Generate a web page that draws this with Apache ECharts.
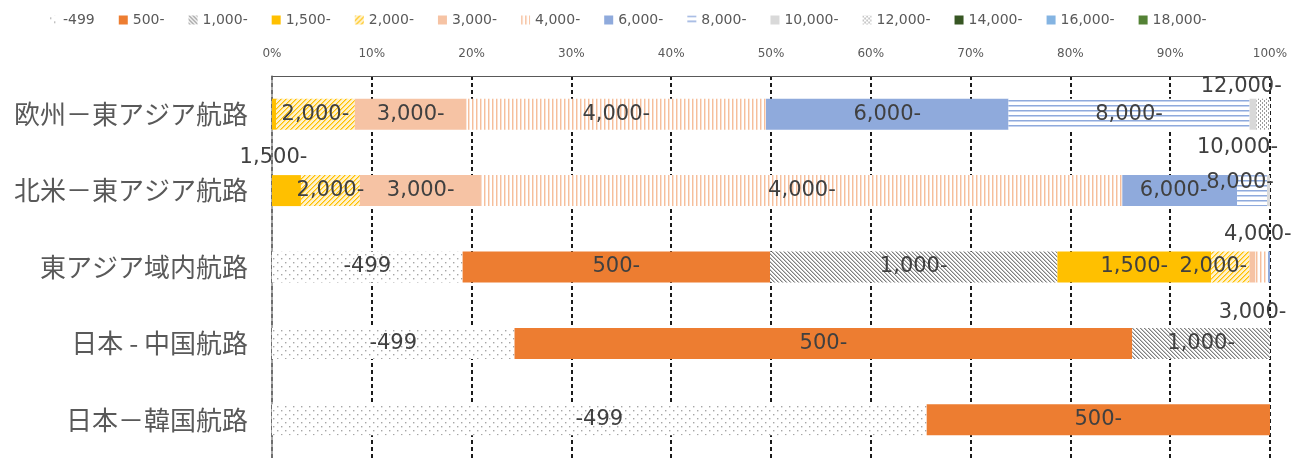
<!DOCTYPE html>
<html>
<head>
<meta charset="utf-8">
<script src="https://cdn.jsdelivr.net/npm/echarts@6/dist/echarts.min.js"></script>
<style>
  html, body { margin: 0; padding: 0; background: #ffffff; }
  #chart { width: 1313px; height: 458px; }
</style>
</head>
<body>
<div id="chart"></div>
<script>
// Routes (top to bottom)
const routes = ['欧州－東アジア航路', '北米－東アジア航路', '東アジア域内航路', '日本 - 中国航路', '日本－韓国航路'];

// Ship size bands (TEU)
const bands = ['-499', '500-', '1,000-', '1,500-', '2,000-', '3,000-', '4,000-', '6,000-', '8,000-', '10,000-', '12,000-', '14,000-', '16,000-', '18,000-'];

// Share (%) of each size band, one value per route in route order
const v499   = [0,     0,    19.1,  24.3, 65.6];
const v500   = [0,     0,    30.8,  61.9, 34.4];
const v1000  = [0,     0,    28.8,  13.8, 0];
const v1500  = [0.4,   2.9,  15.4,  0,    0];
const v2000  = [7.9,   5.9,  3.85,  0,    0];
const v3000  = [11.2,  12.2, 0.6,   0,    0];
const v4000  = [30.0,  64.2, 1.25,  0,    0];
const v6000  = [24.3,  11.5, 0.2,   0,    0];
const v8000  = [24.15, 3.0,  0,     0,    0];
const v10000 = [0.7,   0.3,  0,     0,    0];
const v12000 = [1.35,  0,    0,     0,    0];
const v14000 = [0,     0,    0,     0,    0];
const v16000 = [0,     0,    0,     0,    0];
const v18000 = [0,     0,    0,     0,    0];

const bandValues = [v499, v500, v1000, v1500, v2000, v3000, v4000, v6000, v8000, v10000, v12000, v14000, v16000, v18000];

// Percent tick labels along the top axis
const tickLabels = ['0%', '10%', '20%', '30%', '40%', '50%', '60%', '70%', '80%', '90%', '100%'];

// Which segments carry a data label, and how far small ones are nudged off the bar
const labelPlacement = [
  ['2,000-', 0, 0, 0], ['3,000-', 0, 0, 0], ['4,000-', 0, 0, 0], ['6,000-', 0, 0, 0], ['8,000-', 0, 0, 0], ['12,000-', 0, -22, -28],
  ['1,500-', 1, -13, -33], ['2,000-', 1, 0, 0], ['3,000-', 1, 0, 0], ['4,000-', 1, 0, 0], ['6,000-', 1, -6, 0], ['8,000-', 1, -12, -8], ['10,000-', 1, -31, -43],
  ['-499', 2, 0, 0], ['500-', 2, 0, 0], ['1,000-', 2, 0, 0], ['1,500-', 2, 0, 0], ['2,000-', 2, -17, 0], ['3,000-', 2, 0, 46], ['4,000-', 2, -4, -32],
  ['-499', 3, 0, 0], ['500-', 3, 0, 0], ['1,000-', 3, 0, 0],
  ['-499', 4, 0, 0], ['500-', 4, 0, 0]
];

// ---- fill patterns ----
function tile(w, h, draw) {
  const c = document.createElement('canvas');
  c.width = w; c.height = h;
  const g = c.getContext('2d');
  g.fillStyle = '#ffffff';
  g.fillRect(0, 0, w, h);
  draw(g, w, h);
  return { image: c, repeat: 'repeat' };
}
const dotted = tile(8, 8, (g) => {
  g.fillStyle = '#a6a6a6';
  g.fillRect(1, 2, 1.4, 1.4);
  g.fillRect(5, 6, 1.4, 1.4);
});
const downDiag = tile(4, 4, (g) => {
  for (let i = 0; i < 4; i++) {
    g.fillStyle = '#808080'; g.fillRect(i, i, 1, 1);
    g.fillStyle = '#c4c4c4'; g.fillRect((i + 1) % 4, i, 1, 1);
  }
});
const upDiagYellow = tile(5, 5, (g) => {
  g.fillStyle = '#fff2cc'; g.fillRect(0, 0, 5, 5);
  for (let i = 0; i < 5; i++) {
    g.fillStyle = '#ffc000'; g.fillRect(4 - i, i, 1, 1);
    g.fillStyle = '#ffd966'; g.fillRect((5 - i) % 5, i, 1, 1);
  }
});
const vertOrange = tile(4, 4, (g) => {
  g.fillStyle = '#f6bf9c'; g.fillRect(0, 0, 1, 4);
  g.fillStyle = '#fbe2d2'; g.fillRect(1, 0, 1, 4);
});
const horizBlue = tile(4, 5, (g) => {
  g.fillStyle = '#8faadc'; g.fillRect(0, 0, 4, 1);
  g.fillStyle = '#c5d3ee'; g.fillRect(0, 1, 4, 1);
});
const dashGray = tile(4, 4, (g) => {
  g.fillStyle = '#9a9a9a';
  g.fillRect(0, 0, 1, 2);
  g.fillRect(2, 2, 1, 2);
});

const bandFill = [dotted, '#ed7d31', downDiag, '#ffc000', upDiagYellow, '#f6c3a4', vertOrange, '#8faadc', horizBlue, '#d9d9d9', dashGray, '#375623', '#84b4e2', '#548235'];

const numFont = 'DejaVu Sans';
const jpFont = 'Noto Sans CJK JP';

const series = bands.map((name, b) => ({
  name: name,
  type: 'bar',
  stack: 'share',
  barWidth: 31,
  itemStyle: { color: bandFill[b] },
  emphasis: { disabled: true },
  label: {
    show: false,
    position: 'inside',
    formatter: '{a}',
    color: '#404040',
    fontFamily: numFont,
    fontSize: 21
  },
  data: bandValues[b].map((v, r) => {
    const p = labelPlacement.find(e => e[0] === name && e[1] === r);
    if (!p) return v;
    return { value: v, label: { show: true, offset: [p[2], p[3]] } };
  })
}));

const chart = echarts.init(document.getElementById('chart'), null, { renderer: 'canvas' });
chart.setOption({
  animation: false,
  backgroundColor: '#ffffff',
  legend: {
    top: 8,
    left: 44,
    itemWidth: 9,
    itemHeight: 9,
    itemGap: 24,
    icon: 'rect',
    data: bands,
    textStyle: { color: '#595959', fontFamily: numFont, fontSize: 14 }
  },
  grid: { left: 272, right: 43, top: 76, height: 386, containLabel: false },
  xAxis: {
    type: 'value',
    position: 'top',
    min: 0,
    max: 100,
    interval: 10,
    axisLine: { show: true, lineStyle: { color: '#595959', width: 1 } },
    axisTick: { show: false },
    axisLabel: {
      color: '#595959',
      fontFamily: numFont,
      fontSize: 12,
      margin: 16,
      formatter: (v) => tickLabels[Math.round(v / 10)]
    },
    splitLine: { show: true, lineStyle: { color: '#1a1a1a', width: 2, type: [4, 3] } }
  },
  yAxis: {
    type: 'category',
    inverse: true,
    data: routes,
    axisLine: { show: true, lineStyle: { color: '#8c8c8c', width: 1.5 } },
    axisTick: { show: false },
    axisLabel: { color: '#595959', fontFamily: jpFont, fontSize: 26, margin: 24 }
  },
  series: series
});
</script>
</body>
</html>
